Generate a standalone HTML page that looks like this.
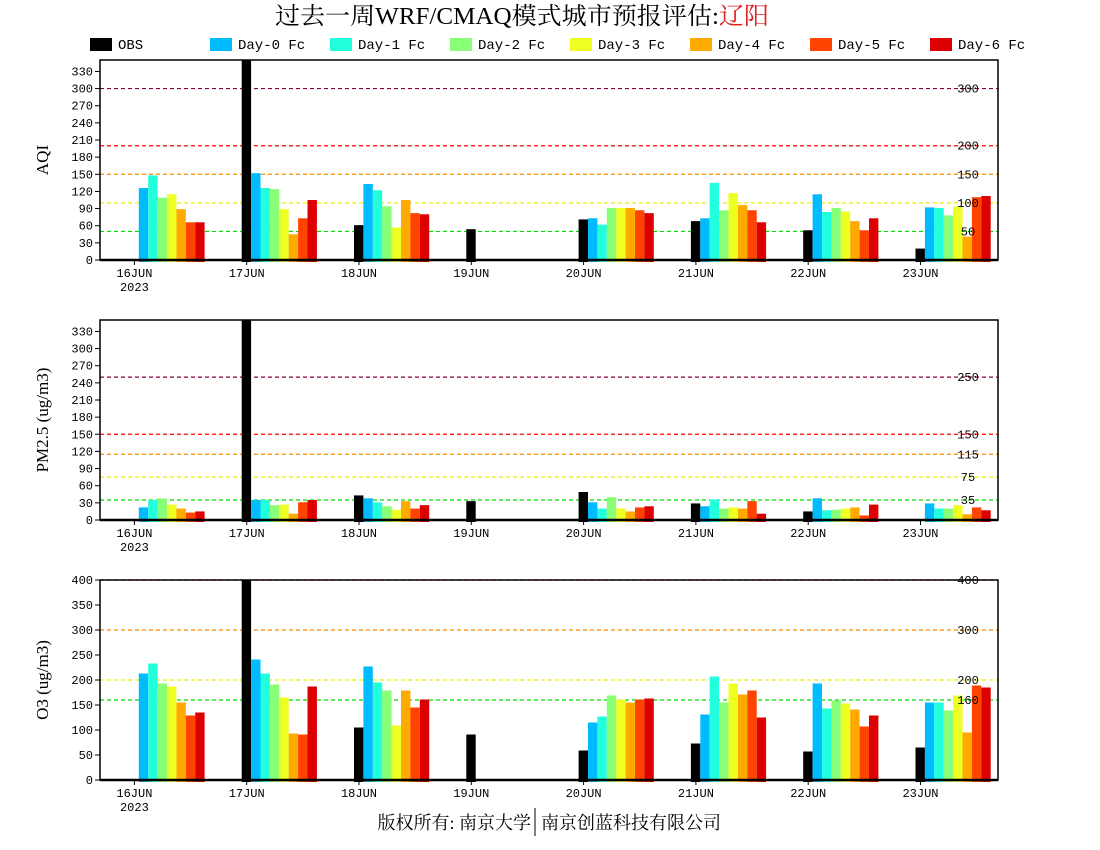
<!DOCTYPE html>
<html><head><meta charset="utf-8"><style>
body{margin:0;background:#fff;}
svg{display:block;font-family:"Liberation Mono","Noto Sans CJK SC",monospace;}
</style></head><body>
<svg id="c" width="1100" height="850" xmlns="http://www.w3.org/2000/svg">
<text x="522" y="24" text-anchor="middle" font-size="24" textLength="494" lengthAdjust="spacingAndGlyphs" font-family="Liberation Serif, Noto Serif CJK SC, serif">过去一周WRF/CMAQ模式城市预报评估:<tspan fill="#e02020">辽阳</tspan></text>
<g id="legend"></g>
<text x="531" y="829" text-anchor="end" font-size="18" font-family="Liberation Serif, Noto Serif CJK SC, serif">版权所有: 南京大学</text>
<text x="541" y="829" text-anchor="start" font-size="18" font-family="Liberation Serif, Noto Serif CJK SC, serif">南京创蓝科技有限公司</text>
<line x1="535" y1="808" x2="535" y2="836" stroke="#000"/>
</svg>
<script>
const days=["16JUN","17JUN","18JUN","19JUN","20JUN","21JUN","22JUN","23JUN"];
const series=["OBS","Day-0 Fc","Day-1 Fc","Day-2 Fc","Day-3 Fc","Day-4 Fc","Day-5 Fc","Day-6 Fc"];
const colors=["#000000","#00bbff","#22ffdd","#88ff77","#eeff22","#ffaa00","#ff4400","#dd0000"];
const aqi=[[null,126,148,109,115,89,66,66],[400,152,126,124,89,45,73,105],[61,133,122,94,57,105,82,80],[54,null,null,null,null,null,null,null],[71,73,62,91,91,91,87,82],[68,73,135,87,117,96,87,66],[52,115,84,91,85,68,52,73],[20,92,91,78,94,41,110,112]];
const pm25=[[null,22,35,38,27,20,13,15],[400,35,35,26,27,11,31,35],[43,38,31,24,18,33,20,26],[33,null,null,null,null,null,null,null],[49,31,20,40,20,15,22,24],[29,24,36,20,22,20,33,11],[15,38,17,18,20,22,8,27],[null,29,20,20,26,10,22,17]];
const o3=[[null,213,233,193,187,155,129,135],[400,241,213,191,165,93,91,187],[105,227,195,179,109,179,145,161],[91,null,null,null,null,null,null,null],[59,115,127,169,161,155,161,163],[73,131,207,155,193,171,179,125],[57,193,143,159,153,141,107,129],[65,155,155,139,169,95,189,185]];
const aqiTicks=[0,30,60,90,120,150,180,210,240,270,300,330];
const pmTicks=[0,30,60,90,120,150,180,210,240,270,300,330];
const o3Ticks=[0,50,100,150,200,250,300,350,400];
const aqiLines=[[50,"#00dd00"],[100,"#eeee00"],[150,"#ff8800"],[200,"#ff0000"],[300,"#880044"]];
const pmLines=[[35,"#00dd00"],[75,"#eeee00"],[115,"#ff8800"],[150,"#ff0000"],[250,"#880044"]];
const o3Lines=[[160,"#00dd00"],[200,"#eeee00"],[300,"#ff8800"],[400,"#ff0000"]];

const NS="http://www.w3.org/2000/svg";
const svg=document.getElementById('c');
function mk(tag,attrs,parent){const e=document.createElementNS(NS,tag);for(const k in attrs)e.setAttribute(k,attrs[k]);(parent||svg).appendChild(e);return e;}
const X0=100,X1=998,dayW=112.3,firstTick=134.4,barW=9.4;
function xDay(i){return firstTick+i*dayW;}

const lg=document.getElementById('legend');
series.forEach((s,i)=>{
  const x=90+i*120;
  const r=mk('rect',{x:x,y:38,width:22,height:13,fill:colors[i]},lg);
  
  
  const t=mk('text',{x:x+28,y:49,'font-size':14},lg);
  t.textContent=s;
  
  
});

function panel(name,top,bot,ymax,ticks,lines,data,title){
  const g=mk('g',{});
  
  
  const h=bot-top;
  const y=v=>bot-v/ymax*h;
  const cid='clip-'+name;
  const cp=mk('clipPath',{id:cid},g);mk('rect',{x:X0,y:top,width:X1-X0,height:h+3},cp);
  lines.forEach(([v,c])=>{
    const l=mk('line',{x1:X0,x2:X1,y1:y(v),y2:y(v),stroke:c,'stroke-width':1.2,'stroke-dasharray':'4,3'},g);
    
    
  });
  const bg=mk('g',{'clip-path':'url(#'+cid+')'},g);
  data.forEach((row,d)=>{
    row.forEach((v,s)=>{
      if(v===null)return;
      const x=xDay(d)-5+s*barW;
      const yt=Math.max(y(v),top-2);
      const r=mk('rect',{x:x,y:yt,width:barW,height:bot-yt+2,fill:colors[s]},bg);
      
      
    });
  });
  lines.forEach(([v,c])=>{
    const t=mk('text',{x:968,y:y(v)+4,'font-size':12,'text-anchor':'middle'},g);
    t.textContent=v;
    
    
  });
  const fr=mk('rect',{x:X0,y:top,width:X1-X0,height:h,fill:'none',stroke:'#000','stroke-width':1.5},g);
  
  
  mk('line',{x1:X0,x2:X1,y1:bot,y2:bot,stroke:'#000','stroke-width':2.5},g);
  ticks.forEach(v=>{
    mk('line',{x1:X0-5,x2:X0,y1:y(v),y2:y(v),stroke:'#000'},g);
    const t=mk('text',{x:X0-7,y:y(v)+4,'font-size':12,'text-anchor':'end'},g);
    t.textContent=v;
    
    
  });
  days.forEach((dname,i)=>{
    mk('line',{x1:xDay(i),x2:xDay(i),y1:bot,y2:bot+5,stroke:'#000'},g);
    const t=mk('text',{x:xDay(i),y:bot+17,'font-size':12,'text-anchor':'middle'},g);
    t.textContent=dname;
    
    
  });
  const yr=mk('text',{x:xDay(0),y:bot+31,'font-size':12,'text-anchor':'middle'},g);
  yr.textContent='2023';
  
  
  const cy=(top+bot)/2;
  const at=mk('text',{x:48,y:cy,'font-size':17,'text-anchor':'middle',transform:'rotate(-90 48 '+cy+')','font-family':'Liberation Serif, serif'},g);
  at.textContent=title;
  
  
}
panel('aqi',60,260,350,aqiTicks,aqiLines,aqi,'AQI');
panel('pm25',320,520,350,pmTicks,pmLines,pm25,'PM2.5 (ug/m3)');
panel('o3',580,780,400,o3Ticks,o3Lines,o3,'O3 (ug/m3)');
</script>
</body></html>
